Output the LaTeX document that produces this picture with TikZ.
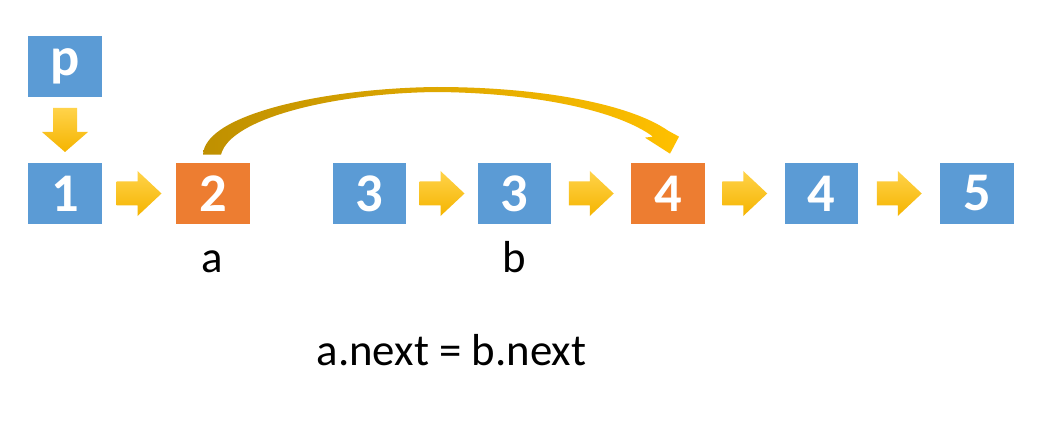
\documentclass[tikz,border=0pt]{standalone}
\usepackage{fontspec}
\setmainfont{Carlito}
\usetikzlibrary{calc}

\definecolor{boxblue}{HTML}{5B9BD5}
\definecolor{boxorange}{HTML}{ED7D31}
\definecolor{arrtop}{HTML}{FFD34A}
\definecolor{arrbot}{HTML}{F5B400}
\definecolor{curvel}{HTML}{BF9000}
\definecolor{curver}{HTML}{FFC000}

\begin{document}
\begin{tikzpicture}[x=0.02cm,y=-0.02cm,
  bx/.style={rectangle,fill=boxblue,minimum width=1.48cm,minimum height=1.22cm,inner sep=0pt,
    text=white,font=\bfseries\fontsize{31}{33}\selectfont},
  ox/.style={bx,fill=boxorange},
  lab/.style={anchor=base,inner sep=0pt,font=\fontsize{25.5}{28}\selectfont},
  rarrow/.pic={\shade[top color=arrtop,bottom color=arrbot]
    (-22.5,-12) -- (-1.5,-12) -- (-1.5,-22.5) -- (22.5,0) -- (-1.5,22.5) -- (-1.5,12) -- (-22.5,12) -- cycle;},
  darrow/.pic={\shade[top color=arrtop,bottom color=arrbot]
    (-12,-22) -- (12,-22) -- (12,2) -- (23,2) -- (0,22) -- (-23,2) -- (-12,2) -- cycle;}]
  \fill[white] (0,0) rectangle (1042,446);
  \useasboundingbox (0,0) rectangle (1042,446);
  % the pointer and the list
  \node[bx] (p) at (65,66.5) {p};
  \node[bx] (n1) at (65,193.5) {1};
  \node[ox] (n2) at (213,193.5) {2};
  \node[bx] (n3) at (369.5,193.5) {3};
  \node[bx] (n4) at (514.5,193.5) {3};
  \node[ox] (n5) at (668,193.5) {4};
  \node[bx] (n6) at (821.5,193.5) {4};
  \node[bx] (n7) at (977,193.5) {5};
  \path ($(p.south)!0.5!(n1.north)$) pic {darrow};
  \foreach \s/\t in {n1/n2,n3/n4,n4/n5,n5/n6,n6/n7}
    \path ($(\s.east)!0.5!(\t.west)$) pic {rarrow};
  % the new link a.next, a tapering curved arrow
  \shade[left color=curvel,right color=curver]
    ($(n2.north)+(-10,-8)$) .. controls (205,113) and (330,88) .. (437,87)
      .. controls (540,87) and (630,104) .. ($(n5.north)+(0,-32)$)
      -- ($(n5.north)+(11,-26)$) -- ($(n5.north)+(2,-9)$) -- ($(n5.north)+(-23,-25)$)
      -- ($(n5.north)+(-15,-26)$) .. controls (620,112) and (540,93) .. (437,92)
      .. controls (335,93) and (230,118) .. ($(n2.north)+(8,-8)$) -- cycle;
  \node[lab] (la) at (212,273) {a};
  \node[lab] (lb) at (514,273) {b};
  \node[lab] (eq) at (451.5,365) {a.next = b.next};
\end{tikzpicture}
\end{document}
